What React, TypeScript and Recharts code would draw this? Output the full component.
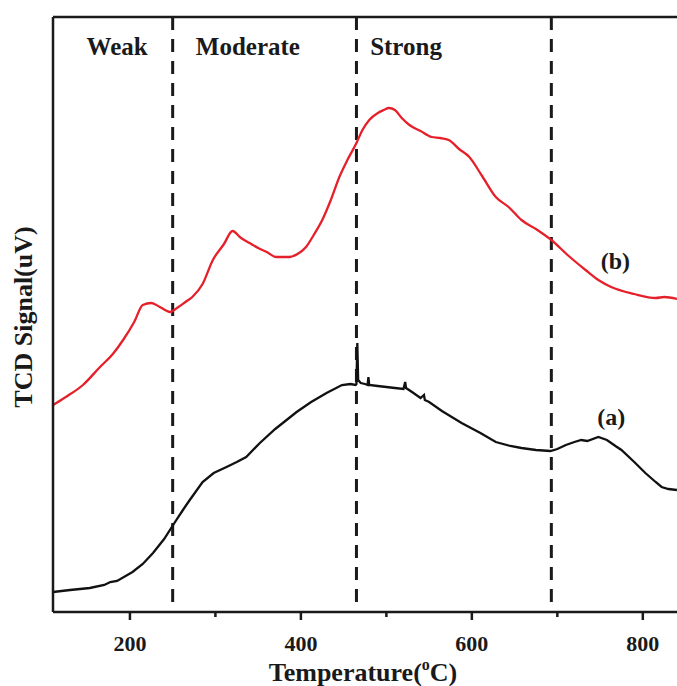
import React from "react";
import {
  LineChart,
  Line,
  XAxis,
  YAxis,
  ReferenceLine,
  ReferenceDot,
} from "recharts";

// sample (a) - black trace
const tempA = [
  110, 130, 153, 170, 177, 185, 203, 215, 227, 240, 252, 262, 270, 285, 298,
  313, 325, 336, 352, 370, 395, 412, 430, 448, 458, 464, 465, 466, 467, 470,
  475, 478, 479, 480, 490, 500, 510, 520, 522, 523, 530, 540, 544, 545, 550,
  565, 588, 610, 628, 645, 658, 675, 692, 700, 710, 720, 728, 735, 748, 758,
  768, 775, 790, 803, 815, 822, 830, 840,
];
const signalA = [
  20, 22, 24, 27, 30, 31, 40, 48, 59, 73, 89, 102, 112, 130, 139, 145, 150,
  155, 169, 183, 200, 210, 219, 227, 228, 227, 228, 269, 232, 229, 228, 227,
  235, 227, 226, 225, 224, 223, 230, 224, 220, 214, 217, 212, 210, 201, 189,
  179, 170, 166, 164, 162, 161, 163, 167, 170, 172, 171, 175, 172, 166, 162,
  150, 139, 130, 125, 123, 122,
];

// sample (b) - red trace
const tempB = [
  110, 125, 145, 165, 180, 192, 205, 215, 225, 235, 247, 255, 265, 273, 285,
  297, 310, 320, 330, 340, 350, 360, 371, 386, 396, 406, 415, 425, 435, 445,
  455, 465, 472, 480, 490, 497, 503, 510, 518, 527, 540, 553, 563, 573, 585,
  597, 612, 628, 643, 658, 675, 693, 712, 733, 748, 763, 790, 815, 825, 840,
];
const signalB = [
  207, 215, 227, 245, 258, 272, 290, 307, 309, 305, 300, 304, 310, 315, 328,
  352, 368, 381, 374, 369, 364, 360, 355, 355, 358, 365, 377, 392, 412, 435,
  453, 469, 482, 492, 499, 502, 504, 502, 494, 487, 481, 475, 474, 472, 463,
  455, 436, 415, 405, 392, 383, 372, 357, 342, 332, 325, 318, 314, 315, 313,
];

const xTicks = [200, 300, 400, 500, 600, 700, 800];
const boundaries = [250, 465, 693];
const regions = [
  { name: "Weak", t: 185 },
  { name: "Moderate", t: 338 },
  { name: "Strong", t: 523 },
];

const rowsA = tempA.map((t, i) => ({ t, v: signalA[i] }));
const rowsB = tempB.map((t, i) => ({ t, v: signalB[i] }));

const font = "'Liberation Serif', 'Times New Roman', serif";
const ink = "#1a1a1a";

const XTick = (props: any) => {
  const { x, y, payload } = props;
  const major = payload.value % 200 === 0;
  return (
    <g>
      <line
        x1={x}
        x2={x}
        y1={y}
        y2={y + (major ? 8 : 5)}
        stroke={ink}
        strokeWidth={2.5}
      />
      {major && (
        <text
          x={x}
          y={y + 39}
          textAnchor="middle"
          fontFamily={font}
          fontWeight="bold"
          fontSize={22}
          fill={ink}
        >
          {payload.value}
        </text>
      )}
    </g>
  );
};

const textLabel = (value: string, size = 25) => ({
  value,
  position: "center" as const,
  fontFamily: font,
  fontWeight: "bold",
  fontSize: size,
  fill: ink,
});

export default function App() {
  return (
    <div style={{ position: "absolute", left: 0, top: 0 }}>
      <LineChart
        width={677}
        height={686}
        margin={{ top: 17, right: 0, bottom: 0, left: 0 }}
      >
        <XAxis
          dataKey="t"
          type="number"
          domain={[110, 840]}
          ticks={xTicks}
          interval={0}
          allowDataOverflow
          height={74}
          tickSize={0}
          tickMargin={0}
          tickLine={false}
          tick={<XTick />}
          axisLine={{ stroke: ink, strokeWidth: 2.5 }}
          label={{
            position: "bottom",
            content: (p: any) => {
              const vb = p.viewBox;
              return (
                <text
                  x={vb.x + vb.width / 2 - 2}
                  y={681}
                  textAnchor="middle"
                  fontFamily={font}
                  fontWeight="bold"
                  fontSize={26}
                  fill={ink}
                >
                  Temperature(
                  <tspan dy={-11} fontSize={16}>
                    o
                  </tspan>
                  <tspan dy={11}>C)</tspan>
                </text>
              );
            },
          }}
        />
        <YAxis
          type="number"
          domain={[0, 595]}
          width={53}
          tick={false}
          tickLine={false}
          axisLine={{ stroke: ink, strokeWidth: 2.5 }}
          label={{
            position: "insideLeft",
            content: () => (
              <text
                transform="translate(32,317) rotate(-90)"
                textAnchor="middle"
                fontFamily={font}
                fontWeight="bold"
                fontSize={26}
                fill={ink}
              >
                TCD Signal(uV)
              </text>
            ),
          }}
        />
        <ReferenceLine y={595} stroke={ink} strokeWidth={2.5} />
        {boundaries.map((b) => (
          <ReferenceLine
            key={b}
            segment={[
              { x: b, y: 10 },
              { x: b, y: 595 },
            ]}
            stroke={ink}
            strokeWidth={3}
            strokeDasharray="13 9"
          />
        ))}
        {regions.map((r) => (
          <ReferenceDot
            key={r.name}
            x={r.t}
            y={566}
            r={0}
            stroke="none"
            label={textLabel(r.name)}
          />
        ))}
        <ReferenceDot x={768} y={352} r={0} stroke="none" label={textLabel("(b)", 24)} />
        <ReferenceDot x={763} y={196} r={0} stroke="none" label={textLabel("(a)", 24)} />
        <Line
          data={rowsA}
          dataKey="v"
          type="linear"
          stroke="#111111"
          strokeWidth={2.3}
          dot={false}
          isAnimationActive={false}
        />
        <Line
          data={rowsB}
          dataKey="v"
          type="monotone"
          stroke="#e5202b"
          strokeWidth={2.3}
          dot={false}
          isAnimationActive={false}
        />
      </LineChart>
    </div>
  );
}
